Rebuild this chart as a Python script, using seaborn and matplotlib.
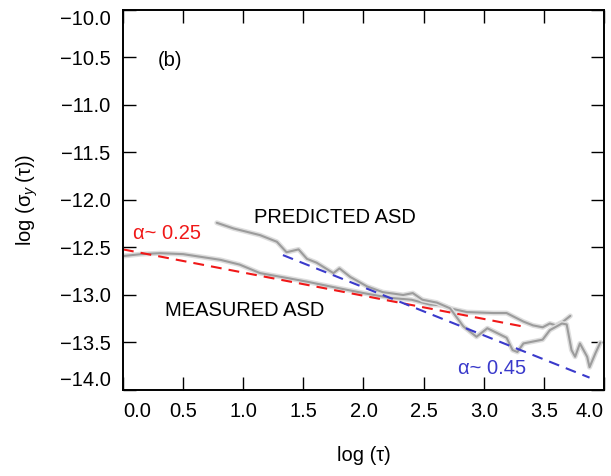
import matplotlib
matplotlib.use('Agg')
import matplotlib.pyplot as plt
import seaborn as sns

# measured ASD (gray, ends around log tau = 3.7)
measured_x = [0.0, 0.15, 0.31, 0.5, 0.81, 0.97, 1.14, 1.36, 1.53, 1.80, 2.0, 2.22,
              2.40, 2.55, 2.66, 2.72, 2.86, 3.08, 3.19, 3.33, 3.41, 3.49, 3.55,
              3.60, 3.66, 3.72]
measured_y = [-12.59, -12.57, -12.56, -12.57, -12.63, -12.68, -12.77, -12.82, -12.86,
              -12.93, -12.98, -13.03, -13.05, -13.10, -13.11, -13.14, -13.18, -13.19,
              -13.19, -13.28, -13.32, -13.34, -13.30, -13.32, -13.28, -13.22]

# predicted ASD (gray, wiggly, runs to the right edge)
pred_x = [0.78, 0.92, 1.14, 1.28, 1.36, 1.46, 1.53, 1.61, 1.75, 1.80, 1.89, 2.03,
          2.16, 2.33, 2.41, 2.49, 2.61, 2.72, 2.83, 2.94, 3.03, 3.11, 3.19, 3.24,
          3.28, 3.33, 3.49, 3.55, 3.65, 3.69, 3.73, 3.76, 3.80, 3.86, 3.88, 3.93,
          3.97]
pred_y = [-12.24, -12.30, -12.37, -12.44, -12.55, -12.52, -12.62, -12.66, -12.77,
          -12.72, -12.81, -12.91, -12.97, -13.00, -12.98, -13.05, -13.08, -13.14,
          -13.33, -13.44, -13.35, -13.40, -13.45, -13.58, -13.60, -13.51, -13.47,
          -13.37, -13.30, -13.31, -13.58, -13.65, -13.51, -13.65, -13.76, -13.61,
          -13.50]

# power-law fits
red_fit_x = [0.0, 3.32]
red_fit_y = [-12.52, -13.33]
blue_fit_x = [1.33, 3.88]
blue_fit_y = [-12.58, -13.87]

x_ticks = [0.0, 0.5, 1.0, 1.5, 2.0, 2.5, 3.0, 3.5, 4.0]
x_tick_labels = ['0.0', '0.5', '1.0', '1.5', '2.0', '2.5', '3.0', '3.5', '4.0']
y_ticks = [-14.0, -13.5, -13.0, -12.5, -12.0, -11.5, -11.0, -10.5, -10.0]
y_tick_labels = ['\u221214.0', '\u221213.5', '\u221213.0', '\u221212.5', '\u221212.0',
                 '\u221211.5', '\u221211.0', '\u221210.5', '\u221210.0']

RED = '#f01818'
BLUE = '#3a3acb'
FS = 14.5

sns.set_theme(style='ticks')
plt.rcParams['font.family'] = ['Liberation Sans', 'DejaVu Sans']
plt.rcParams['text.color'] = 'black'
plt.rcParams['axes.labelcolor'] = 'black'
plt.rcParams['mathtext.fontset'] = 'custom'
plt.rcParams['mathtext.rm'] = 'Liberation Sans'
plt.rcParams['mathtext.it'] = 'Liberation Sans:italic'

fig, ax = plt.subplots(figsize=(6.11, 4.76), dpi=100)
fig.subplots_adjust(left=0.2013, right=0.9885, bottom=0.1807, top=0.979)

# soft gray curves: wide light halo plus a core line
for xs, ys in [(measured_x, measured_y), (pred_x, pred_y)]:
    sns.lineplot(x=xs, y=ys, sort=False, estimator=None, color='#dedede',
                 linewidth=3.6, ax=ax)
    sns.lineplot(x=xs, y=ys, sort=False, estimator=None, color='#9c9c9c',
                 linewidth=1.5, ax=ax)

sns.lineplot(x=red_fit_x, y=red_fit_y, sort=False, estimator=None, color=RED,
             linewidth=1.5, linestyle=(0, (5.2, 3.4)), ax=ax)
sns.lineplot(x=blue_fit_x, y=blue_fit_y, sort=False, estimator=None, color=BLUE,
             linewidth=1.5, linestyle=(0, (5.2, 3.4)), ax=ax)

ax.set_xlim(0, 4)
ax.set_ylim(-14, -10)
ax.set_xticks(x_ticks)
ax.set_xticklabels(x_tick_labels)
ax.set_yticks(y_ticks)
ax.set_yticklabels(y_tick_labels)
ax.tick_params(direction='in', length=9.5, width=1.0, top=True, right=True,
               labelsize=FS, pad=9, colors='black')
xl = ax.get_xticklabels()
xl[0].set_ha('left')
xl[-1].set_ha('right')
yl = ax.get_yticklabels()
yl[0].set_va('bottom')
yl[-1].set_va('top')

for s in ax.spines.values():
    s.set_linewidth(1.4)
    s.set_color('black')

ax.set_xlabel('log (\u03c4)', fontsize=FS, labelpad=18)
ax.set_ylabel('log (\u03c3$_y$\u2009(\u03c4))', fontsize=FS, labelpad=14)

ax.text(0.39, -10.53, '(b)', fontsize=FS, ha='center', va='center')
ax.text(1.09, -12.18, 'PREDICTED ASD', fontsize=FS, ha='left', va='center')
ax.text(0.35, -13.16, 'MEASURED ASD', fontsize=FS, ha='left', va='center')
ax.text(0.083, -12.35, '\u03b1~ 0.25', fontsize=FS, ha='left', va='center', color=RED)
ax.text(2.79, -13.77, '\u03b1~ 0.45', fontsize=FS, ha='left', va='center', color=BLUE)

plt.savefig('out.png', dpi=100)
